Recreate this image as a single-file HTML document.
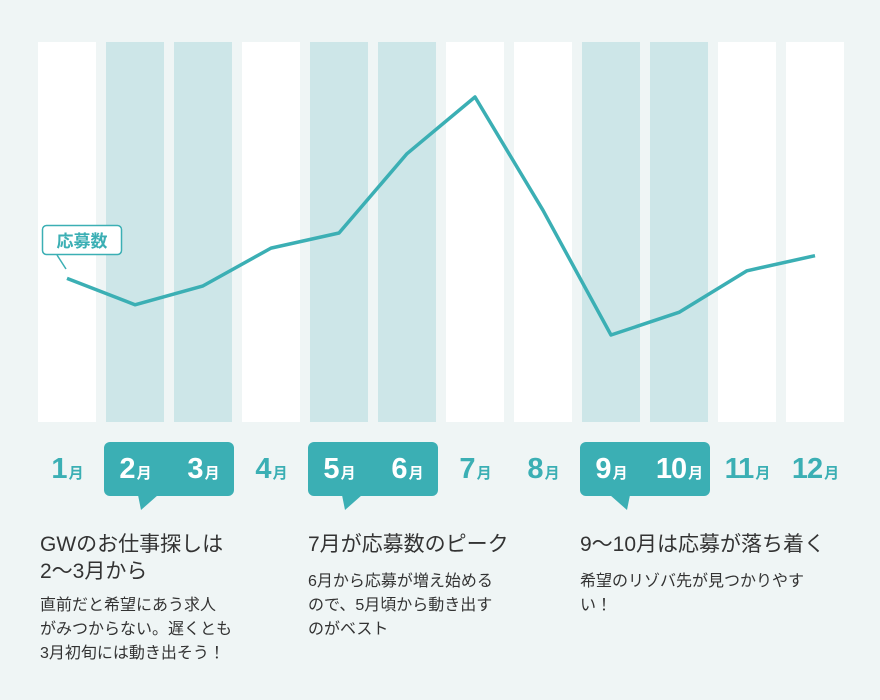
<!DOCTYPE html>
<html><head><meta charset="utf-8">
<style>
body{margin:0;background:#eff5f5;font-family:"Liberation Sans","Noto Sans CJK JP",sans-serif;}
#wrap{position:relative;width:880px;height:700px;overflow:hidden;background:#eff5f5;}
.m{position:absolute;top:446px;width:68px;text-align:center;color:#3bafb4;font-size:29px;font-weight:bold;line-height:46px;white-space:nowrap;letter-spacing:-1px}
.m small{font-size:15px;font-weight:bold;margin-left:2px}
.m.w{color:#fff}
.badge{position:absolute;top:442px;height:54px;width:130px;background:#3bafb4;border-radius:6px}
.h{position:absolute;font-size:21px;color:#333;line-height:27px}
.b{position:absolute;font-size:16px;color:#333;line-height:24px}
</style></head><body>
<div id="wrap">
<svg id="chart" width="880" height="440" style="position:absolute;left:0;top:0"></svg>
<div class="badge" style="left:104px"></div>
<div class="badge" style="left:308px"></div>
<div class="badge" style="left:580px"></div>
<svg width="880" height="80" style="position:absolute;left:0;top:480px">
<polygon points="138,15 158,15 141,30" fill="#3bafb4"/>
<polygon points="342,15 362,15 345,30" fill="#3bafb4"/>
<polygon points="610,15 630,15 627,30" fill="#3bafb4"/>
</svg>
<div class="h" style="left:40px;top:531px">GWのお仕事探しは<br>2〜3月から</div>
<div class="b" style="left:40px;top:594px">直前だと希望にあう求人<br>がみつからない。遅くとも<br>3月初旬には動き出そう！</div>
<div class="h" style="left:308px;top:531px">7月が応募数のピーク</div>
<div class="b" style="left:308px;top:570px">6月から応募が増え始める<br>ので、5月頃から動き出す<br>のがベスト</div>
<div class="h" style="left:580px;top:531px">9〜10月は応募が落ち着く</div>
<div class="b" style="left:580px;top:570px">希望のリゾバ先が見つかりやす<br>い！</div>
</div>
<script>
const months=["1","2","3","4","5","6","7","8","9","10","11","12"];
const shaded=[false,true,true,false,true,true,false,false,true,true,false,false];
const values=[52,45,50,60,64,85,100,70,37,43,54,58];
(function(){
const NS="http://www.w3.org/2000/svg";
const svg=document.getElementById('chart');
const wrap=document.getElementById('wrap');
const x0=38,pitch=68,colW=58,topY=42,botY=422;
const xs=i=>x0+colW/2+i*pitch;
const ys=v=>97+(100-v)*(335-97)/(100-37);
months.forEach((m,i)=>{
 const r=document.createElementNS(NS,'rect');
 r.setAttribute('x',x0+i*pitch);r.setAttribute('y',topY);r.setAttribute('width',colW);r.setAttribute('height',botY-topY);
 r.setAttribute('fill',shaded[i]?'#cde6e8':'#ffffff');
 
 
 svg.appendChild(r);
 const d=document.createElement('div');
 d.className='m'+(shaded[i]?' w':'');
 d.style.left=(x0+colW/2+i*pitch-34)+'px';
 d.innerHTML=m+'<small>月</small>';
 
 
 wrap.appendChild(d);
});
const p=document.createElementNS(NS,'polyline');
p.setAttribute('points',values.map((v,i)=>xs(i)+','+ys(v)).join(' '));
p.setAttribute('fill','none');p.setAttribute('stroke','#3bafb4');p.setAttribute('stroke-width','3.5');p.setAttribute('stroke-linejoin','round');


svg.appendChild(p);
const lab=document.createElementNS(NS,'g');


lab.innerHTML='<line x1="57" y1="255" x2="66" y2="269" stroke="#3bafb4" stroke-width="1.5"/><rect x="42.5" y="225.5" width="79" height="29" rx="4" fill="#fff" stroke="#3bafb4" stroke-width="1.5"/><text x="82" y="247" text-anchor="middle" font-size="17" font-weight="bold" fill="#3bafb4" font-family="Liberation Sans,Noto Sans CJK JP,sans-serif">応募数</text>';
svg.appendChild(lab);
})();
</script>
</body></html>
